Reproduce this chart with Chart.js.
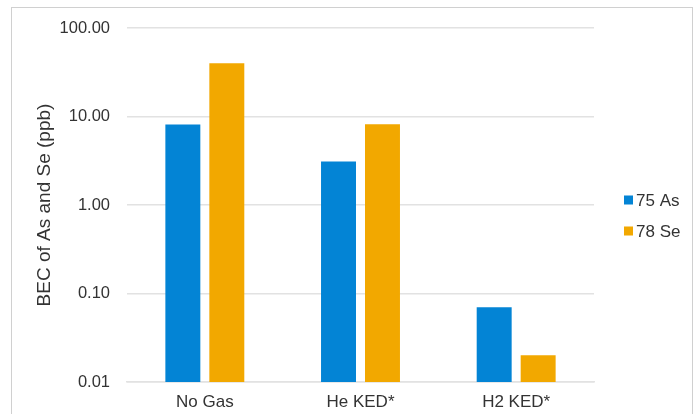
<!DOCTYPE html>
<html>
<head>
<meta charset="utf-8">
<script src="https://cdn.jsdelivr.net/npm/chart.js@4/dist/chart.umd.min.js"></script>
<style>
  html, body { margin: 0; padding: 0; background: #ffffff; }
  #wrap { position: relative; width: 698px; height: 414px; overflow: hidden; }
  #frame { position: absolute; left: 11px; top: 7px; width: 682px; height: 420px;
           border: 1px solid #d0d0d0; box-sizing: border-box; }
  #c { position: absolute; left: 0; top: 0; }
</style>
</head>
<body>
<div id="wrap">
  <div id="frame"></div>
  <canvas id="c" width="698" height="414"></canvas>
</div>
<script>
// Background equivalent concentrations by collision/reaction cell mode
const categories = ['No Gas', 'He KED*', 'H2 KED*'];
const seriesNames = ['75 As', '78 Se'];
const as75 = [8.1, 3.1, 0.07];
const se78 = [40, 8.2, 0.02];
const tickValues = [0.01, 0.1, 1, 10, 100];
const yTitle = 'BEC of As and Se (ppb)';

const colors = ['#0384D5', '#F2A800'];
const FONT = "'Liberation Sans', Arial, sans-serif";

// Legend drawn at the right of the plot, small square swatches
const sideLegend = {
  id: 'sideLegend',
  afterDraw(chart) {
    const ctx = chart.ctx;
    ctx.save();
    ctx.font = '17px ' + FONT;
    ctx.textBaseline = 'middle';
    ctx.textAlign = 'left';
    chart.data.datasets.forEach((ds, i) => {
      const y = 200 + i * 31;
      ctx.fillStyle = ds.backgroundColor;
      ctx.fillRect(624, y - 4.5, 9, 9);
      ctx.fillStyle = '#333333';
      ctx.fillText(ds.label, 636, y + 1);
    });
    ctx.restore();
  }
};

new Chart(document.getElementById('c'), {
  type: 'bar',
  data: {
    labels: categories,
    datasets: [
      { label: seriesNames[0], data: as75, backgroundColor: colors[0] },
      { label: seriesNames[1], data: se78, backgroundColor: colors[1] }
    ]
  },
  options: {
    responsive: false,
    animation: false,
    events: [],
    layout: { padding: { left: 29, right: 104, top: 28, bottom: 2 } },
    datasets: { bar: { categoryPercentage: 0.565, barPercentage: 0.795 } },
    plugins: { legend: { display: false }, tooltip: { enabled: false } },
    scales: {
      x: {
        afterFit(scale) { scale.height = 30; },
        grid: { display: false, drawTicks: false },
        border: { display: true, color: '#e2e2e2', width: 1.5 },
        ticks: { color: '#333333', font: { family: FONT, size: 17 }, padding: 10, maxRotation: 0 }
      },
      y: {
        type: 'logarithmic',
        min: 0.01,
        max: 100,
        afterBuildTicks(scale) {
          scale.ticks = tickValues.map(v => ({ value: v }));
        },
        afterFit(scale) { scale.width = 98; },
        grid: { color: '#e2e2e2', lineWidth: 1.5, drawTicks: false },
        border: { display: false },
        ticks: {
          color: '#333333',
          font: { family: FONT, size: 16.5 },
          padding: 17,
          callback: v => Number(v).toFixed(2)
        },
        title: {
          display: true,
          text: yTitle,
          color: '#333333',
          font: { family: FONT, size: 19 }
        }
      }
    }
  },
  plugins: [sideLegend]
});
</script>
</body>
</html>
